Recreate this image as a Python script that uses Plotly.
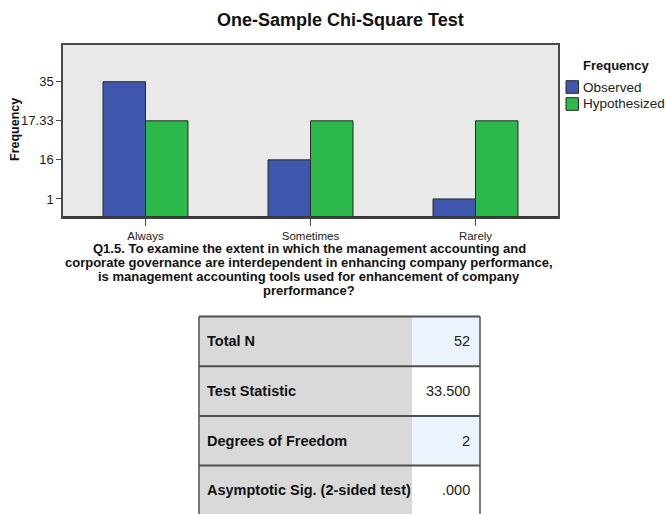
import plotly.graph_objects as go

# ---------------- data ----------------
categories = ["Always", "Sometimes", "Rarely"]
observed = [35, 16, 1]
hypothesized = [17.33, 17.33, 17.33]
series_names = ["Observed", "Hypothesized"]
y_tick_values = [1, 16, 17.33, 35]
y_tick_labels = ["1", "16", "17.33", "35"]
table_labels = ["Total N", "Test Statistic", "Degrees of Freedom",
                "Asymptotic Sig. (2-sided test)"]
table_values = ["52", "33.500", "2", ".000"]
chart_title = "One-Sample Chi-Square Test"
y_title = "Frequency"
legend_title = "Frequency"
x_title_lines = [
    "Q1.5. To examine the extent in which the management accounting and",
    "corporate governance are interdependent in enhancing company performance,",
    "is management accounting tools used for enhancement of company",
    "prerformance?",
]

# ---------------- styling ----------------
W, H = 666, 514
FONT = "Liberation Sans, Arial, sans-serif"
BLUE = "#3e56ab"
GREEN = "#2db84b"
PLOT_BG = "#eaeaea"
EDGE = "#2a2a2a"
AXIS = "#4a4a4a"
LABEL_BG = "#d9d9da"
VALUE_BG = "#ebf4fc"
GRID_LINE = "#505050"

# SPSS draws this axis as an ordinal scale of the distinct tick values
AXIS_FLOOR = -0.47
AXIS_TOP = 3.94


def scale_pos(v):
    return y_tick_values.index(v)


def px_x(x):
    return x / W


def px_y(y):
    return 1 - y / H


fig = go.Figure()
colors = [BLUE, GREEN]
for name, vals, col in zip(series_names, [observed, hypothesized], colors):
    fig.add_trace(go.Bar(
        x=categories,
        y=[scale_pos(v) - AXIS_FLOOR for v in vals],
        base=AXIS_FLOOR,
        name=name,
        marker=dict(color=col, line=dict(color=EDGE, width=1)),
        customdata=vals,
        hovertemplate="%{x}<br>" + name + ": %{customdata}<extra></extra>",
        showlegend=False,
    ))

plot_x0, plot_x1 = px_x(63), px_x(558)
plot_y0, plot_y1 = px_y(217.3), px_y(45)

fig.update_layout(
    width=W, height=H,
    margin=dict(l=0, r=0, t=0, b=0),
    paper_bgcolor="white",
    plot_bgcolor=PLOT_BG,
    barmode="group",
    bargap=0.485,
    bargroupgap=0,
    font=dict(family=FONT, size=12, color="#222222"),
    showlegend=False,
    xaxis=dict(
        domain=[plot_x0, plot_x1],
        type="category",
        range=[-0.5, 2.5],
        showline=True, mirror=True, linecolor=AXIS, linewidth=1.5,
        ticks="outside", ticklen=7, tickcolor=AXIS, tickwidth=1,
        tickfont=dict(size=11.5, color="#222222"),
        showgrid=False, zeroline=False,
        fixedrange=True,
    ),
    yaxis=dict(
        domain=[plot_y0, plot_y1],
        range=[AXIS_FLOOR, AXIS_TOP],
        tickvals=[scale_pos(v) for v in y_tick_values],
        ticktext=y_tick_labels,
        showline=True, mirror=True, linecolor=AXIS, linewidth=1.5,
        ticks="outside", ticklen=5, tickcolor=AXIS, tickwidth=1,
        tickfont=dict(size=13, color="#222222"),
        showgrid=False, zeroline=False,
        fixedrange=True,
    ),
)

shapes = []
# thicker bottom axis line as in SPSS
shapes.append(dict(type="line", xref="paper", yref="paper",
                   x0=plot_x0, x1=plot_x1, y0=plot_y0, y1=plot_y0,
                   line=dict(color="#3a3a3a", width=2.5)))

annotations = [
    dict(text="<b>" + chart_title + "</b>", x=px_x(340), y=px_y(20),
         font=dict(size=18, color="#111111")),
    dict(text="<b>" + y_title + "</b>", x=px_x(15), y=px_y(130), textangle=-90,
         font=dict(size=12.5, color="#111111")),
    dict(text="<b>" + legend_title + "</b>", x=px_x(581), y=px_y(65),
         xanchor="left", font=dict(size=13, color="#111111")),
]
for i, line in enumerate(x_title_lines):
    annotations.append(dict(text="<b>" + line + "</b>", x=px_x(309), y=px_y(248 + 14 * i),
                            font=dict(size=13, color="#111111")))
for i, (name, col) in enumerate(zip(series_names, colors)):
    yc = 87 + 17 * i
    annotations.append(dict(text=name, x=px_x(581), y=px_y(yc), xanchor="left",
                            font=dict(size=13.5, color="#222222")))
    shapes.append(dict(type="rect", xref="paper", yref="paper",
                       x0=px_x(566), x1=px_x(578.5), y0=px_y(yc - 6.3), y1=px_y(yc + 6.3),
                       fillcolor=col, line=dict(color=EDGE, width=1)))

# ---------------- statistics table ----------------
TBL_X0, TBL_XM, TBL_X1 = 199, 412, 480
TBL_Y0, ROW_H = 316.5, 49.7
for i, (lab, val) in enumerate(zip(table_labels, table_values)):
    top = TBL_Y0 + ROW_H * i
    bot = top + ROW_H
    shapes.append(dict(type="rect", xref="paper", yref="paper", layer="below",
                       x0=px_x(TBL_X0), x1=px_x(TBL_XM), y0=px_y(bot), y1=px_y(top),
                       fillcolor=LABEL_BG, line=dict(width=0)))
    shapes.append(dict(type="rect", xref="paper", yref="paper", layer="below",
                       x0=px_x(TBL_XM), x1=px_x(TBL_X1), y0=px_y(bot), y1=px_y(top),
                       fillcolor=VALUE_BG if i % 2 == 0 else "white", line=dict(width=0)))
    shapes.append(dict(type="line", xref="paper", yref="paper",
                       x0=px_x(TBL_X0), x1=px_x(TBL_X1), y0=px_y(top), y1=px_y(top),
                       line=dict(color=GRID_LINE, width=2)))
    annotations.append(dict(text="<b>" + lab + "</b>", x=px_x(TBL_X0 + 6), y=px_y(top + ROW_H / 2),
                            xanchor="left", font=dict(size=14.5, color="#111111")))
    annotations.append(dict(text=val, x=px_x(TBL_X1 - 8), y=px_y(top + ROW_H / 2),
                            xanchor="right", font=dict(size=14.5, color="#222222")))
tbl_bottom = TBL_Y0 + ROW_H * len(table_labels)
for xv in (TBL_X0, TBL_X1):
    shapes.append(dict(type="line", xref="paper", yref="paper",
                       x0=px_x(xv), x1=px_x(xv), y0=px_y(tbl_bottom), y1=px_y(TBL_Y0),
                       line=dict(color=GRID_LINE, width=1.5)))

for a in annotations:
    a.setdefault("xref", "paper")
    a.setdefault("yref", "paper")
    a.setdefault("showarrow", False)
    a.setdefault("xanchor", "center")
    a.setdefault("yanchor", "middle")
fig.update_layout(annotations=annotations, shapes=shapes)

fig.write_html("out.html",
               config={"displayModeBar": False},
               post_script="document.body.style.margin='0';document.body.style.overflow='hidden';")
